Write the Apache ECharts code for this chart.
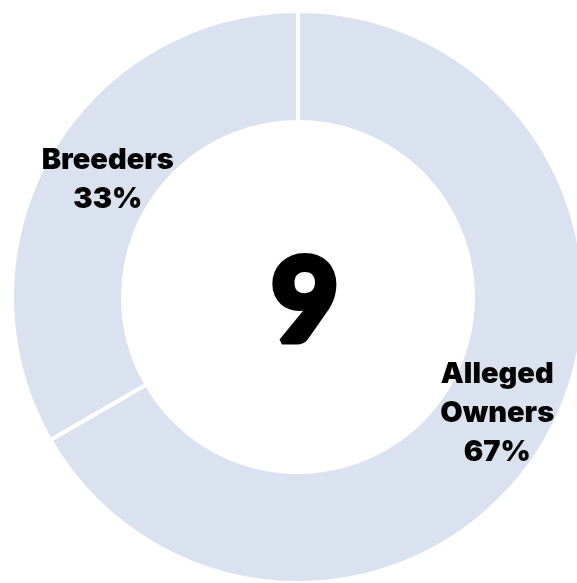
<!DOCTYPE html>
<html>
<head>
<meta charset="utf-8">
<script src="https://cdn.jsdelivr.net/npm/echarts@6/dist/echarts.min.js"></script>
<style>
html,body{margin:0;padding:0;background:#fff;}
#chart{width:577px;height:583px;}
</style>
</head>
<body>
<div id="chart"></div>
<script>
const categories = ['Alleged Owners', 'Breeders'];
const counts = [6, 3];
const percentLabels = ['67%', '33%'];
const totalLabel = '9';

const chart = echarts.init(document.getElementById('chart'), null, {renderer: 'canvas'});
const labelFont = 'Inter, Lato, "DejaVu Sans", sans-serif';
const bigFont = 'Lato, Inter, "DejaVu Sans", sans-serif';
chart.setOption({
  animation: false,
  backgroundColor: '#ffffff',
  graphic: [{
    type: 'text',
    style: {
      x: 305,
      y: 303,
      text: totalLabel,
      align: 'center',
      verticalAlign: 'middle',
      font: '900 117px ' + bigFont,
      fill: '#000000',
      stroke: '#000000',
      lineWidth: 6
    }
  }],
  series: [{
    type: 'pie',
    center: [298, 297],
    radius: [175, 286],
    startAngle: 90,
    clockwise: true,
    silent: true,
    itemStyle: {
      color: '#dbe2ef',
      borderColor: '#ffffff',
      borderWidth: 4
    },
    label: {
      show: true,
      position: 'inside',
      color: '#000000',
      fontFamily: labelFont,
      fontWeight: 900,
      fontSize: 29,
      lineHeight: 39,
      align: 'center',
      formatter: function (p) {
        return p.name.replace(' ', '\n') + '\n' + percentLabels[p.dataIndex];
      }
    },
    labelLine: {show: false},
    data: categories.map((c, i) => ({
      name: c,
      value: counts[i],
      label: i === 1 ? {offset: [12, 0]} : {offset: [-3, 0]}
    }))
  }]
});
</script>
</body>
</html>
